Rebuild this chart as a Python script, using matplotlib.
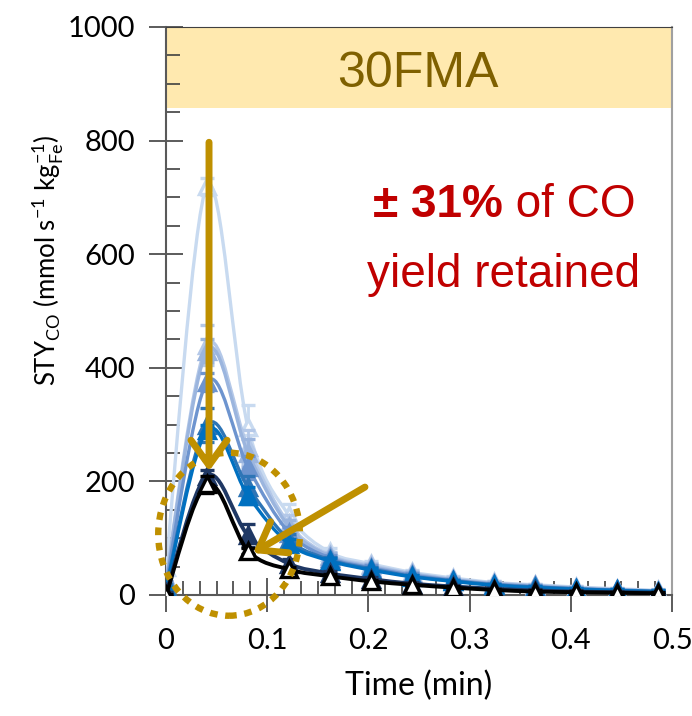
import numpy as np
import matplotlib
matplotlib.use('Agg')
import matplotlib.pyplot as plt
from matplotlib.path import Path
from matplotlib.patches import PathPatch, Ellipse
from matplotlib.ticker import MultipleLocator

plt.rcParams['font.family'] = ['Lato', 'DejaVu Sans']
plt.rcParams['mathtext.fontset'] = 'custom'
plt.rcParams['mathtext.rm'] = 'Lato'

# time on stream (min)
time = [0, 0.0405, 0.081, 0.1215, 0.162, 0.2025, 0.243, 0.2835, 0.324, 0.3645, 0.405, 0.4455, 0.486]

# STY_CO per cycle, first (lightest) to last (black)
sty_c1 = [50, 720, 295, 140, 75, 55, 40, 30, 22, 18, 14, 11, 8]
sty_c2 = [30, 440, 260, 125, 70, 52, 38, 28, 21, 17, 13, 10, 7]
sty_c3 = [25, 430, 250, 120, 68, 50, 37, 27, 20, 16, 12, 9, 7]
sty_c4 = [20, 375, 225, 110, 65, 48, 35, 26, 19, 15, 11, 9, 6]
sty_c5 = [15, 300, 190, 97, 62, 46, 33, 25, 18, 14, 11, 8, 6]
sty_c6 = [10, 290, 175, 90, 60, 44, 32, 24, 17, 13, 10, 8, 6]
sty_c7 = [3, 210, 105, 55, 38, 28, 20, 15, 11, 8, 6, 5, 4]
sty_c8 = [0, 195, 78, 45, 33, 24, 18, 13, 9, 6, 5, 4, 3]

err_c1 = [10, 15, 40, 20, 8, 5, 4, 3, 3, 2, 2, 2, 2]
err_c2 = [8, 35, 30, 15, 6, 5, 4, 3, 3, 2, 2, 2, 2]
err_c3 = [6, 20, 25, 12, 6, 4, 3, 3, 2, 2, 2, 2, 2]
err_c4 = [5, 15, 20, 10, 5, 4, 3, 3, 2, 2, 2, 2, 2]
err_c5 = [5, 30, 20, 10, 5, 4, 3, 2, 2, 2, 2, 2, 2]
err_c6 = [4, 10, 15, 8, 5, 4, 3, 2, 2, 2, 2, 2, 2]
err_c7 = [3, 10, 20, 8, 4, 3, 3, 2, 2, 2, 2, 2, 2]
err_c8 = [2, 15, 5, 5, 4, 3, 2, 2, 2, 2, 2, 2, 2]

series = [sty_c1, sty_c2, sty_c3, sty_c4, sty_c5, sty_c6, sty_c7, sty_c8]
errors = [err_c1, err_c2, err_c3, err_c4, err_c5, err_c6, err_c7, err_c8]
colors = ['#c8daf0', '#b4c8e8', '#9bb5de', '#6d94cf', '#2e75b6', '#0070c0', '#1f3864', '#000000']
faces = ['white', '#b4c8e8', '#9bb5de', '#6d94cf', '#2e75b6', '#0070c0', '#1f3864', 'white']

gold = '#bf9000'


def smooth_path(x, y):
    # excel-like smoothed line: cubic bezier segments through the points
    x = np.asarray(x, float)
    y = np.asarray(y, float)
    n = len(x)
    verts = [(x[0], y[0])]
    codes = [Path.MOVETO]
    for i in range(n - 1):
        i0 = max(i - 1, 0)
        i3 = min(i + 2, n - 1)
        c1 = (x[i] + (x[i + 1] - x[i0]) / 6, y[i] + (y[i + 1] - y[i0]) / 6)
        c2 = (x[i + 1] - (x[i3] - x[i]) / 6, y[i + 1] - (y[i3] - y[i]) / 6)
        verts += [c1, c2, (x[i + 1], y[i + 1])]
        codes += [Path.CURVE4] * 3
    return Path(verts, codes)


fig = plt.figure(figsize=(6.92, 7.16), dpi=100)
ax = fig.add_axes([0.2399, 0.169, 0.7312, 0.7933])

ax.axhspan(857, 1000, color='#ffe9af', zorder=0, lw=0)
ax.text(0.249, 917, '30FMA', ha='center', va='center', fontsize=36,
        color='#7f6000', family='Liberation Sans')

for k, (vals, err, c, fc) in enumerate(zip(series, errors, colors, faces)):
    lw = 2.8 if k >= 6 else 2.4
    ax.add_patch(PathPatch(smooth_path(time, vals), fill=False, edgecolor=c,
                           lw=lw, zorder=2 + k))
    ax.errorbar(time, vals, yerr=err, fmt='^', color=c, mfc=fc, mec=c, ms=12,
                mew=2.4, ecolor=c, elinewidth=2, capsize=5, capthick=2,
                zorder=2.5 + k)

# dotted ellipse around the peak
ax.add_patch(Ellipse((0.0623, 107), 0.140, 287, fill=False, edgecolor=gold,
                     lw=4.6, linestyle=(0, (1.2, 1.2)), clip_on=False, zorder=20))

arrow = dict(arrowstyle='->,head_length=0.9,head_width=0.65',
             color=gold, lw=5, mutation_scale=20, shrinkA=0, shrinkB=0)
ax.annotate('', xy=(0.0425, 218), xytext=(0.0425, 797), arrowprops=arrow, zorder=21)
ax.annotate('', xy=(0.086, 74), xytext=(0.1966, 190), arrowprops=arrow, zorder=21)

red = '#c00000'
ax.text(0.333, 665, '\u00b1 31%', ha='right', va='baseline', fontsize=33,
        fontweight='bold', color=red, family='Liberation Sans')
ax.text(0.333, 665, ' of CO', ha='left', va='baseline', fontsize=33,
        color=red, family='Liberation Sans')
ax.text(0.334, 542, 'yield retained', ha='center', va='baseline', fontsize=33,
        color=red, family='Liberation Sans')

ax.set_xlim(0, 0.5)
ax.set_ylim(0, 1000)
ax.xaxis.set_minor_locator(MultipleLocator(0.1 / 6))
ax.yaxis.set_major_locator(MultipleLocator(200))
ax.yaxis.set_minor_locator(MultipleLocator(50))
ax.set_xticks([0, 0.1, 0.2, 0.3, 0.4, 0.5])
ax.set_xticklabels(['0', '0.1', '0.2', '0.3', '0.4', '0.5'])
ax.tick_params(which='major', direction='inout', length=24, width=1.2,
               labelsize=21, color='#404040')
ax.tick_params(axis='x', which='major', pad=12)
ax.tick_params(axis='y', which='major', pad=10)
ax.tick_params(which='minor', direction='in', length=10, width=1.2, color='#404040')
for s in ['left', 'bottom']:
    ax.spines[s].set_color('#595959')
    ax.spines[s].set_linewidth(1.5)
ax.spines['top'].set_color('#404040')
ax.spines['right'].set_color('#a0a0a0')
ax.spines['right'].set_linewidth(1.5)

ax.set_xlabel('Time (min)', fontsize=23, labelpad=12)
ax.set_ylabel(r'STY$_{\mathregular{CO}}$ (mmol s$^{\mathregular{-1}}$ kg$_{\mathregular{Fe}}^{\mathregular{-1}}$)',
              fontsize=18.5)
ax.yaxis.set_label_coords(-0.2, 0.59)

fig.savefig('out.png', dpi=100)
